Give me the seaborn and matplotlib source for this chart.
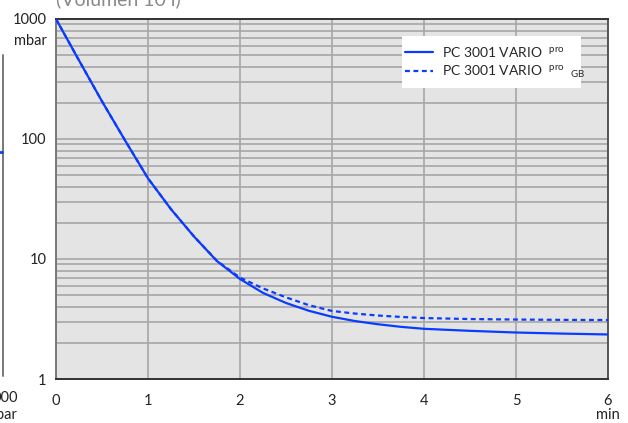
import numpy as np
import pandas as pd
import seaborn as sns
import matplotlib.pyplot as plt
from matplotlib.patches import Rectangle
from matplotlib.ticker import FixedLocator, NullFormatter

# ---- data ----
time_min = [0, 0.25, 0.5, 0.75, 1.0, 1.25, 1.5, 1.75, 2.0, 2.25, 2.5, 2.75, 3.0,
            3.25, 3.5, 3.75, 4.0, 4.5, 5.0, 5.5, 6.0]
pc3001 = [1000, 452, 206, 97.5, 47.0, 26.0, 15.4, 9.6, 6.81, 5.22, 4.30, 3.70, 3.30,
          3.04, 2.86, 2.72, 2.62, 2.52, 2.44, 2.39, 2.35]
pc3001_gb = [1000, 452, 206, 97.5, 47.0, 26.0, 15.4, 9.65, 7.00, 5.69, 4.79, 4.12, 3.69,
             3.51, 3.38, 3.29, 3.22, 3.16, 3.13, 3.11, 3.10]
label_solid = r"PC 3001 VARIO  $^{pro}$"
label_dash = r"PC 3001 VARIO  $^{pro}$  $_{GB}$"
x_ticks = [0, 1, 2, 3, 4, 5, 6]
y_ticks = [1, 10, 100, 1000]
y_ticklabels = ["1", "10", "100", "1000"]

sns.set_style("white")
plt.rcParams['font.family'] = ['Lato', 'DejaVu Sans']
plt.rcParams['mathtext.default'] = 'regular'

blue = '#0a3cff'
grid_c = '#a6a6a6'

fig = plt.figure(figsize=(6.28, 4.23), dpi=100)
ax = fig.add_axes([56/628, 44/423, 552/628, 360/423])
ax.set_facecolor('#e4e4e4')

df1 = pd.DataFrame({'t': time_min, 'p': pc3001})
df2 = pd.DataFrame({'t': time_min, 'p': pc3001_gb})
sns.lineplot(data=df2, x='t', y='p', ax=ax, color=blue, lw=1.6,
             dashes=(2.2, 1.6), label=label_dash, zorder=3)
sns.lineplot(data=df1, x='t', y='p', ax=ax, color=blue, lw=1.6,
             label=label_solid, zorder=4)

ax.set_yscale('log')
ax.set_xlim(0, 6)
ax.set_ylim(1, 1000)

ax.xaxis.set_major_locator(FixedLocator(x_ticks))
ax.yaxis.set_major_locator(FixedLocator(y_ticks))
ax.set_yticklabels(y_ticklabels)
minors = [m * 10**e for e in range(0, 3) for m in range(2, 10)]
ax.yaxis.set_minor_locator(FixedLocator(minors))
ax.yaxis.set_minor_formatter(NullFormatter())

ax.grid(True, which='major', axis='both', color=grid_c, lw=1.2, zorder=0)
ax.grid(True, which='minor', axis='y', color=grid_c, lw=1.2, zorder=0)
ax.set_axisbelow(True)

ax.tick_params(axis='both', which='both', length=0, labelsize=10.5, colors='#222222')
ax.tick_params(axis='y', pad=7)
ax.tick_params(axis='x', pad=11)
ax.set_xlabel('')
ax.set_ylabel('')

for s, c in [('left', '#777777'), ('bottom', '#333333'), ('top', '#333333'), ('right', '#555555')]:
    ax.spines[s].set_visible(True)
    ax.spines[s].set_color(c)
    ax.spines[s].set_linewidth(1.4)

# unit labels
ax.text(-0.017, 0.94, 'mbar', transform=ax.transAxes, ha='right', va='center',
        fontsize=10.5, color='#222222')
ax.text(1.0, -0.1, 'min', transform=ax.transAxes, ha='center', va='center',
        fontsize=10.5, color='#222222')

# legend background box
ax.add_patch(Rectangle((0.6268, 0.8083), 0.9511 - 0.6268, 0.9528 - 0.8083,
                       transform=ax.transAxes, facecolor='white', edgecolor='none',
                       zorder=5))

# handles: solid first
h, l = ax.get_legend_handles_labels()
order = [l.index(label_solid), l.index(label_dash)]
leg = ax.legend([h[i] for i in order], [l[i] for i in order],
                loc='upper left', bbox_to_anchor=(0.6322, 0.928),
                frameon=False, fontsize=10, handlelength=2.0,
                handletextpad=0.7, borderpad=0, labelspacing=0.36,
                borderaxespad=0)
leg.set_zorder(6)

# fragments of neighbouring content cropped into the picture
fig.text(56/628, 1 + 1/423, '(Volumen 10 l)', ha='left', va='center',
         fontsize=14, color='#8a8a8a')
fig.add_artist(plt.Line2D([3/628, 3/628], [1 - 55/423, 1 - 376/423],
                          transform=fig.transFigure, color='#777777', lw=1.4))
fig.add_artist(plt.Line2D([0, 2/628], [1 - 152/423, 1 - 152/423],
                          transform=fig.transFigure, color=blue, lw=2))
fig.text(18/628, 1 - 398/423, '000', ha='right', va='center', fontsize=10.5, color='#222222')
fig.text(17/628, 1 - 415/423, 'bar', ha='right', va='center', fontsize=10.5, color='#222222')

fig.savefig('out.png', dpi=100)
